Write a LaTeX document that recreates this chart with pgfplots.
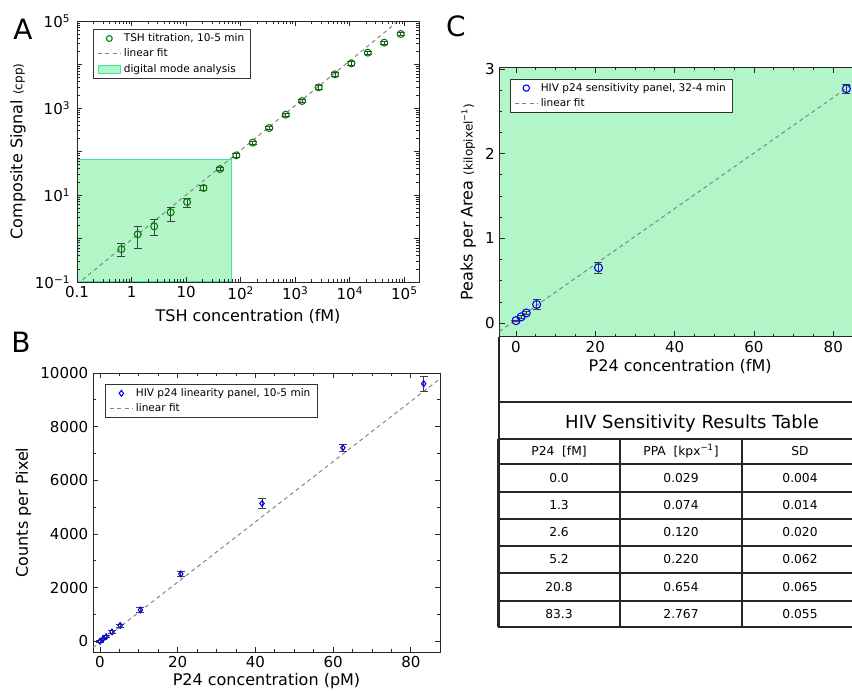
\documentclass[border=0pt]{standalone}
\usepackage{fontspec}
\setmainfont{DejaVu Sans}
\usepackage{pgfplots}
\pgfplotsset{compat=1.18}

\definecolor{dgreen}{rgb}{0,0.5,0}
\definecolor{mint}{RGB}{178,245,198}
\definecolor{mintedge}{RGB}{60,230,160}
\definecolor{fitgray}{RGB}{128,128,128}

\pgfplotsset{
  panel/.style={
    scale only axis,
    axis line style={black!85, line width=0.7pt},
    tick style={black!85, line width=0.6pt},
    major tick length=4pt, minor tick length=2pt,
    tick label style={font=\fontsize{11.3}{12}\selectfont},
    label style={font=\fontsize{12}{13}\selectfont},
    /pgf/number format/assume math mode=true,
    /pgf/number format/set thousands separator={},
    legend style={font=\fontsize{7.9}{9.4}\selectfont, draw=black!80,
      line width=0.6pt, fill=white, inner xsep=3pt, inner ysep=1pt},
    legend cell align=left,
    clip mode=individual,
  },
  ebar/.style={
    /pgfplots/error bars/y dir=both,
    /pgfplots/error bars/y explicit,
    /pgfplots/error bars/error bar style={black!75, line width=0.6pt},
    /pgfplots/error bars/error mark options={rotate=90, black!75, mark size=3pt, line width=0.6pt},
  },
  fit/.style={fitgray, line width=0.7pt, dash pattern=on 3pt off 2.5pt},
}

\begin{document}
\begin{tikzpicture}
\useasboundingbox (0,0) rectangle (639pt,-517.5pt);

% ---------------- A ----------------
\begin{axis}[panel, at={(57.75pt,-211.5pt)}, anchor=south west,
  width=256.5pt, height=195.75pt, axis on top,
  xmode=log, ymode=log, xmin=0.1, xmax=185000, ymin=0.1, ymax=100000,
  xtick={0.1,1,10,100,1000,10000,100000},
  xticklabels={0.1,1,10,10\textsuperscript{2},10\textsuperscript{3},10\textsuperscript{4},10\textsuperscript{5}},
  ytick={0.1,1,10,100,1000,10000,100000},
  yticklabels={10\textsuperscript{−1},,10\textsuperscript{1},,10\textsuperscript{3},,10\textsuperscript{5}},
  yticklabel style={xshift=-1.5pt},
  xlabel={TSH concentration (fM)},
  ylabel={Composite Signal {\fontsize{9}{9}\selectfont(cpp)}},
  legend style={at={(0.047,0.969)}, anchor=north west},
]
\addplot[fill=mint, draw=mintedge, line width=0.8pt, forget plot]
  coordinates {(0.1,0.1) (67,0.1) (67,67) (0.1,67) (0.1,0.1)};
\addplot[fit, forget plot] coordinates {(0.127,0.113) (77400,100000)};
\addplot[only marks, mark=o, dgreen, mark size=2.6pt, line width=0.8pt, ebar, forget plot]
  coordinates {
  (0.65,0.57) += (0,0.20) -= (0,0.19)
  (1.3,1.25) += (0,0.65) -= (0,0.67)
  (2.6,1.9) += (0,0.8) -= (0,0.74)
  (5.2,4.0) += (0,1.3) -= (0,1.5)
  (10.4,6.9) += (0,1.5) -= (0,1.6)
  (20.8,14.5) += (0,1.9) -= (0,1.9)
  (41.7,39.6) += (0,3) -= (0,3)
  (83.3,81.7) += (0,7) -= (0,7)
  (166.7,160) += (0,13) -= (0,13)
  (333,347) += (0,30) -= (0,30)
  (667,703) += (0,60) -= (0,60)
  (1333,1449) += (0,120) -= (0,120)
  (2667,2985) += (0,250) -= (0,250)
  (5333,5940) += (0,500) -= (0,500)
  (10667,10600) += (0,900) -= (0,900)
  (21333,18700) += (0,1600) -= (0,1600)
  (42667,31800) += (0,2700) -= (0,2700)
  (85333,50200) += (0,4000) -= (0,4000)
  };
\addlegendimage{only marks, mark=o, dgreen, mark size=2.2pt, line width=0.8pt}
\addlegendentry{TSH titration, 10-5 min}
\addlegendimage{fit}
\addlegendentry{linear fit}
\addlegendimage{area legend, fill=mint, draw=mintedge}
\addlegendentry{digital mode analysis}
\end{axis}

% ---------------- B ----------------
\begin{axis}[panel, at={(69.75pt,-489pt)}, anchor=south west,
  width=260.25pt, height=209.25pt,
  xmin=-1.8, xmax=87.5, ymin=-400, ymax=10000, scaled y ticks=false,
  xtick={0,20,...,80}, minor x tick num=3,
  ytick={0,2000,...,10000}, minor y tick num=1,
  xlabel={P24 concentration (pM)}, ylabel={Counts per Pixel},
  xlabel style={yshift=3pt},
  legend style={at={(0.035,0.961)}, anchor=north west},
]
\addplot[fit, forget plot] coordinates {(-1.8,-242) (87.5,9786)};
\addplot[only marks, mark=diamond, blue, mark size=2.2pt, line width=0.8pt, ebar, forget plot]
  coordinates {
  (0,0) +- (0,30)
  (0.8,90) +- (0,30)
  (1.6,170) +- (0,35)
  (3.1,350) +- (0,45)
  (5.2,590) +- (0,55)
  (10.4,1170) +- (0,80)
  (20.8,2510) +- (0,105)
  (41.7,5140) +- (0,190)
  (62.5,7215) +- (0,140)
  (83.3,9600) +- (0,280)
  };
\addlegendimage{only marks, mark=diamond, blue, mark size=2.2pt, line width=0.8pt}
\addlegendentry{HIV p24 linearity panel, 10-5 min}
\addlegendimage{fit}
\addlegendentry{linear fit}
\end{axis}

% ---------------- C ----------------
\begin{axis}[panel, at={(374.5pt,-252.5pt)}, anchor=south west,
  width=271.3pt, height=201.75pt,
  axis background/.style={fill=mint},
  xmin=-4.2, xmax=87, ymin=-0.16, ymax=3.015,
  xtick={0,20,...,80}, minor x tick num=3,
  ytick={0,1,2,3}, minor y tick num=3,
  xlabel={P24 concentration (fM)},
  xlabel style={yshift=2pt},
  ylabel={Peaks per Area {\fontsize{9}{9}\selectfont(kilopixel\textsuperscript{−1})}},
  legend style={at={(0.0296,0.959)}, anchor=north west},
]
\addplot[fit, forget plot] coordinates {(-4.2,-0.099) (87,2.893)};
\addplot[only marks, mark=o, blue, mark size=3pt, line width=0.8pt, ebar, forget plot]
  coordinates {
  (0.0,0.029) +- (0,0.004)
  (1.3,0.074) +- (0,0.014)
  (2.6,0.120) +- (0,0.020)
  (5.2,0.220) +- (0,0.062)
  (20.8,0.654) +- (0,0.065)
  (83.3,2.767) +- (0,0.055)
  };
\addlegendimage{only marks, mark=o, blue, mark size=2.4pt, line width=0.8pt}
\addlegendentry{HIV p24 sensitivity panel, 32-4 min}
\addlegendimage{fit}
\addlegendentry{linear fit}
\end{axis}

% ---------------- letters, frame and table ----------------
\begin{scope}[x=0.75pt, y=-0.75pt]
\node[font=\fontsize{21}{21}\selectfont] at (23,29) {A};
\node[font=\fontsize{21}{21}\selectfont] at (21,342) {B};
\node[font=\fontsize{21}{21}\selectfont] at (456,26) {C};

\draw[black!85, line width=0.8pt] (499,337) -- (499,627);
\draw[black!85, line width=0.8pt] (499,402) -- (870,402);
\node[font=\fontsize{13.5}{14}\selectfont] at (692,424) {HIV Sensitivity Results Table};

\foreach \yy in {439,464,492,519,546,573,601,627}
  \draw[black!85, line width=0.8pt] (498,\yy) -- (870,\yy);
\foreach \xx in {498,620,742}
  \draw[black!85, line width=0.8pt] (\xx,439) -- (\xx,627);

\begin{scope}[every node/.style={font=\fontsize{9.2}{10}\selectfont}]
\node at (559,451.5) {P24\ \ [fM]};
\node at (681,451.5) {PPA\ \ [kpx\textsuperscript{−1}]};
\node at (800,451.5) {SD};
\node at (559,478) {0.0};   \node at (681,478) {0.029};   \node at (800,478) {0.004};
\node at (559,505.5) {1.3}; \node at (681,505.5) {0.074}; \node at (800,505.5) {0.014};
\node at (559,532.5) {2.6}; \node at (681,532.5) {0.120}; \node at (800,532.5) {0.020};
\node at (559,559.5) {5.2}; \node at (681,559.5) {0.220}; \node at (800,559.5) {0.062};
\node at (559,587) {20.8};  \node at (681,587) {0.654};   \node at (800,587) {0.065};
\node at (559,614) {83.3};  \node at (681,614) {2.767};   \node at (800,614) {0.055};
\end{scope}
\end{scope}
\end{tikzpicture}
\end{document}
